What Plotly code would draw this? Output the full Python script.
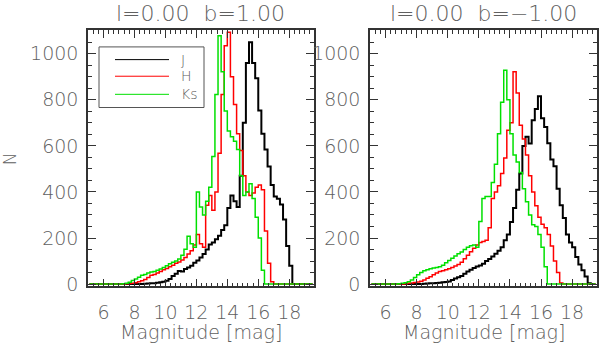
import plotly.graph_objects as go

# bin centres (0.2 mag bins)
mag = [round(5.1 + 0.2 * i, 1) for i in range(73)]

# ---- l=0.00 b=1.00 ----
left_J = [0, 0, 0, 0, 0, 0, 0, 0, 0, 0,
          0, 0, 0, 0, 0, 0, 0, 0, 1, 2,
          3, 4, 6, 8, 10, 14, 22, 35, 45, 57,
          55, 65, 72, 80, 92, 102, 115, 130, 150, 172,
          181, 195, 210, 235, 255, 330, 385, 360, 335, 470,
          700, 960, 1050, 960, 894, 754, 653, 584, 510, 430,
          380, 370, 345, 280, 165, 80, 0, 0, 0, 0,
          0, 0, 0]
left_H = [0, 0, 0, 0, 0, 0, 0, 0, 0, 0,
          0, 0, 1, 2, 4, 6, 10, 14, 20, 28,
          38, 42, 48, 55, 62, 68, 75, 82, 90, 96,
          105, 115, 130, 145, 170, 215, 175, 160, 342, 385,
          321, 400, 568, 823, 1035, 1093, 900, 780, 653, 580,
          470, 400, 385, 395, 420, 430, 410, 230, 90, 10,
          0, 0, 0, 0, 0, 0, 0, 0, 0, 0,
          0, 0, 0]
left_Ks = [0, 0, 0, 0, 0, 0, 0, 0, 0, 0,
           0, 1, 3, 8, 15, 22, 30, 38, 42, 48,
           52, 55, 60, 65, 72, 80, 88, 95, 100, 109,
           125, 151, 208, 175, 160, 400, 335, 300, 360, 420,
           554, 823, 1078, 922, 752, 665, 640, 620, 584, 470,
           385, 400, 436, 372, 290, 200, 60, 0, 0, 0,
           0, 0, 0, 0, 0, 0, 0, 0, 0, 0,
           0, 0, 0]

# ---- l=0.00 b=-1.00 ----
right_J = [0, 0, 0, 0, 0, 0, 0, 0, 0, 0,
           0, 0, 0, 0, 0, 0, 0, 1, 2, 3,
           4, 5, 6, 8, 9, 11, 18, 24, 30, 35,
           45, 55, 62, 70, 76, 81, 88, 100, 109, 120,
           132, 145, 160, 190, 215, 270, 330, 410, 480, 600,
           640, 610, 711, 760, 816, 720, 682, 611, 541, 512,
           414, 342, 287, 215, 180, 160, 117, 85, 60, 33,
           3, 0, 0]
right_H = [0, 0, 0, 0, 0, 0, 0, 0, 0, 0,
           0, 1, 3, 5, 7, 9, 12, 18, 25, 32,
           40, 48, 54, 58, 62, 67, 72, 78, 85, 95,
           110, 125, 140, 155, 170, 181, 185, 190, 244, 372,
           400, 427, 480, 547, 668, 700, 922, 830, 690, 630,
           560, 470, 400, 340, 290, 260, 244, 215, 165, 100,
           50, 5, 0, 0, 0, 0, 0, 0, 0, 0,
           0, 0, 0]
right_Ks = [0, 0, 0, 0, 0, 0, 0, 0, 0, 1,
            3, 6, 10, 18, 28, 40, 50, 58, 62, 67,
            70, 72, 75, 82, 92, 102, 112, 122, 132, 139,
            150, 160, 166, 170, 160, 272, 372, 380, 380, 441,
            520, 653, 790, 929, 800, 653, 560, 530, 484, 414,
            357, 300, 258, 250, 215, 160, 75, 0, 0, 0,
            0, 0, 0, 0, 0, 0, 0, 0, 0, 0,
            0, 0, 0]

panel_titles = ["l=0.00\u00a0\u00a0b=1.00", "l=0.00\u00a0\u00a0b=\u22121.00"]
band_names = ["J", "H", "Ks"]
band_colors = ["#000000", "#ff0000", "#00e000"]
band_widths = [2, 1.5, 1.5]
x_ticks = [6, 8, 10, 12, 14, 16, 18]
y_ticks = [0, 200, 400, 600, 800, 1000]

W, H = 600, 353
FONT = "DejaVu Sans"
TXT = "#606060"
AX = "#333333"

fig = go.Figure()
panels = [(left_J, left_H, left_Ks), (right_J, right_H, right_Ks)]
for p, series in enumerate(panels):
    xa = "x" if p == 0 else "x2"
    ya = "y" if p == 0 else "y2"
    for name, vals, col, lw in zip(band_names, series, band_colors, band_widths):
        fig.add_trace(go.Scatter(x=mag, y=vals, mode="lines", name=name,
                                 line=dict(color=col, width=lw, shape="hvh"),
                                 xaxis=xa, yaxis=ya, showlegend=False))

ydom = [1 - 293 / H, 1 - 31 / H]
xdoms = [[88 / W, 314 / W], [370 / W, 597 / W]]

def xax(dom):
    return dict(domain=dom, range=[5, 19.6], tickmode="array", tickvals=x_ticks,
                ticks="inside", ticklen=8, tickwidth=1, tickcolor=AX,
                showline=True, linecolor=AX, linewidth=1.5, mirror="ticks",
                showgrid=False, zeroline=False,
                minor=dict(tickmode="linear", tick0=5, dtick=1 / 3, ticks="inside",
                           ticklen=4, tickcolor=AX, tickwidth=1, showgrid=False),
                tickfont=dict(family=FONT, size=19, color=TXT, weight=300),
                ticklabelstandoff=8)

def yax(dom, anchor):
    return dict(domain=dom, range=[-10, 1102], tickmode="array", tickvals=y_ticks,
                ticks="inside", ticklen=8, tickwidth=1, tickcolor=AX,
                showline=True, linecolor=AX, linewidth=1.5, mirror="ticks",
                showgrid=False, zeroline=False, anchor=anchor,
                minor=dict(tickmode="linear", tick0=0, dtick=50, ticks="inside",
                           ticklen=4, tickcolor=AX, tickwidth=1, showgrid=False),
                tickfont=dict(family=FONT, size=19, color=TXT, weight=300),
                ticklabelstandoff=4)

fig.update_layout(
    width=W, height=H, margin=dict(l=0, r=0, t=0, b=0),
    paper_bgcolor="white", plot_bgcolor="white",
    xaxis=dict(xax(xdoms[0]), anchor="y"),
    yaxis=yax(ydom, "x"),
    xaxis2=dict(xax(xdoms[1]), anchor="y2"),
    yaxis2=yax(ydom, "x2"),
    showlegend=False,
)

ann = []
for p in range(2):
    cx = (xdoms[p][0] + xdoms[p][1]) / 2
    ann.append(dict(x=cx, y=1 - 14 / H, xref="paper", yref="paper", text=panel_titles[p],
                    showarrow=False, xanchor="center", yanchor="middle",
                    font=dict(family=FONT, size=22, color=TXT, weight=300)))
    ann.append(dict(x=cx, y=1 - 340 / H, xref="paper", yref="paper", text="Magnitude [mag]",
                    showarrow=False, xanchor="center", yanchor="middle",
                    font=dict(family=FONT, size=19, color=TXT, weight=300)))
ann.append(dict(x=10 / W, y=1 - 163 / H, xref="paper", yref="paper", text="N",
                showarrow=False, textangle=-90, xanchor="center", yanchor="middle",
                font=dict(family=FONT, size=17, color=TXT, weight=300)))

# legend (drawn in the left panel)
shapes = [dict(type="rect", xref="paper", yref="paper", x0=99 / W, x1=204 / W,
               y0=1 - 110 / H, y1=1 - 48 / H, line=dict(color="#555555", width=1))]
leg_y = [61, 78, 96.5]
for name, col, yy in zip(band_names, band_colors, leg_y):
    shapes.append(dict(type="line", xref="paper", yref="paper", x0=115 / W, x1=169 / W,
                       y0=1 - yy / H, y1=1 - yy / H, line=dict(color=col, width=1)))
    ann.append(dict(x=179 / W, y=1 - yy / H, xref="paper", yref="paper", text=name,
                    showarrow=False, xanchor="left", yanchor="middle",
                    font=dict(family=FONT, size=14, color=TXT, weight=300)))

fig.update_layout(annotations=ann, shapes=shapes)
fig.write_html("out.html", config={"displayModeBar": False},
               post_script="document.body.style.margin='0';")
